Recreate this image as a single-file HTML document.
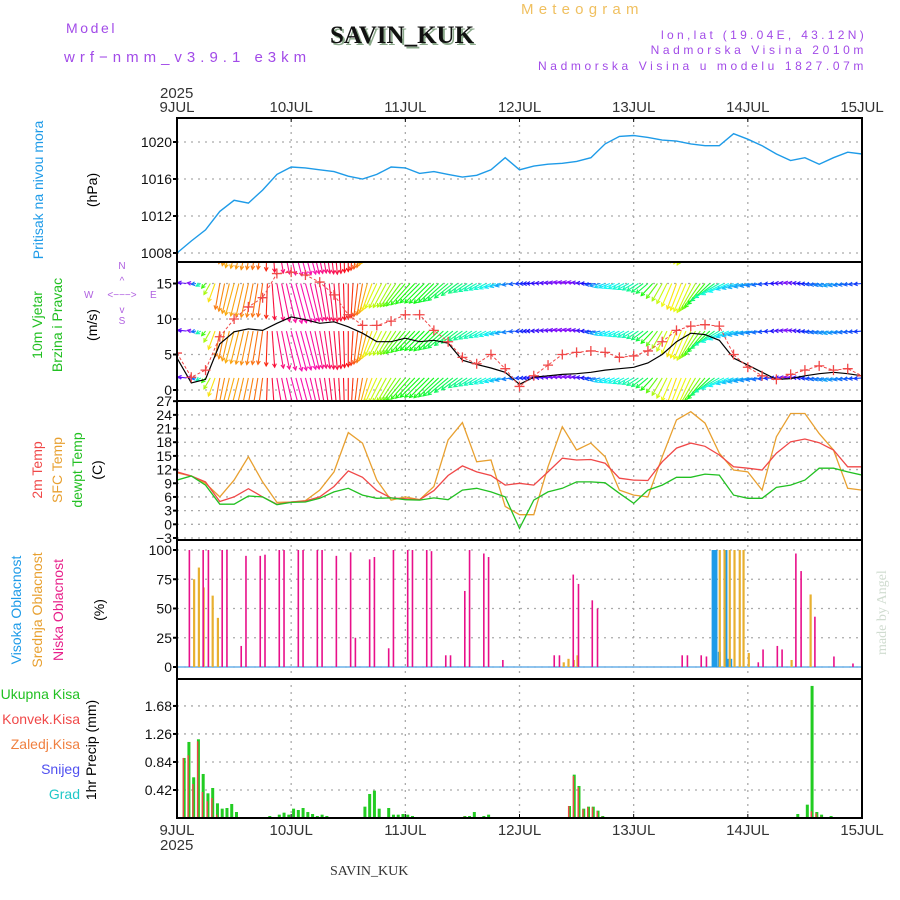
<!DOCTYPE html>
<html><head><meta charset="utf-8"><title>Meteogram SAVIN_KUK</title>
<style>
html,body{margin:0;padding:0;background:#fff;}
svg{display:block;font-family:"Liberation Sans",sans-serif;}
</style></head>
<body>
<svg id="chart" width="900" height="900" viewBox="0 0 900 900" xmlns="http://www.w3.org/2000/svg">
<rect x="0" y="0" width="900" height="900" fill="#fff"/>
<g>
<text x="66" y="33" font-size="14" fill="#a24be8" letter-spacing="2.6">Model</text>
<text x="64" y="62" font-size="15" fill="#a24be8" letter-spacing="5.0">wrf−nmm_v3.9.1 e3km</text>
<text x="521" y="14" font-size="15" fill="#f0c060" letter-spacing="5.2">Meteogram</text>
<text x="332" y="45" font-size="25" font-weight="bold" font-family="Liberation Serif,serif" fill="#8aa88a">SAVIN_KUK</text>
<text x="330" y="43" font-size="25" font-weight="bold" font-family="Liberation Serif,serif" fill="#111">SAVIN_KUK</text>
<text x="867" y="39" font-size="12" fill="#a24be8" text-anchor="end" letter-spacing="3.3">lon,lat (19.04E, 43.12N)</text>
<text x="867" y="54" font-size="12" fill="#a24be8" text-anchor="end" letter-spacing="3.6">Nadmorska Visina 2010m</text>
<text x="867" y="70" font-size="12" fill="#a24be8" text-anchor="end" letter-spacing="3.6">Nadmorska Visina u modelu 1827.07m</text>
<text x="160" y="98" font-size="15" fill="#333">2025</text>
<text x="160" y="850" font-size="15" fill="#333">2025</text>
<text x="330" y="875" font-size="14" font-family="Liberation Serif,serif" fill="#333">SAVIN_KUK</text>
<text transform="translate(886,655) rotate(-90)" font-size="14" font-family="Liberation Serif,serif" fill="#d0dcd0">made by Angel</text>
</g>
<g>
<text transform="translate(43,190) rotate(-90)" font-size="14" fill="#1e9be8" text-anchor="middle">Pritisak na nivou mora</text>
<text transform="translate(97,190) rotate(-90)" font-size="14" fill="#000" text-anchor="middle">(hPa)</text>
<text transform="translate(42,325) rotate(-90)" font-size="14" fill="#22c022" text-anchor="middle">10m Vjetar</text>
<text transform="translate(62,325) rotate(-90)" font-size="14" fill="#22c022" text-anchor="middle">Brzina i Pravac</text>
<text transform="translate(97,325) rotate(-90)" font-size="14" fill="#000" text-anchor="middle">(m/s)</text>
<g fill="#b060e0" font-size="10">
<text x="122" y="269" text-anchor="middle">N</text>
<text x="84" y="298">W</text><text x="150" y="298">E</text>
<text x="122" y="324" text-anchor="middle">S</text>
<text x="122" y="298" text-anchor="middle" font-size="10">&lt;−−−&gt;</text>
<text x="122" y="284" text-anchor="middle">^</text>
<text x="122" y="313" text-anchor="middle">v</text>
</g>
<text transform="translate(42,470) rotate(-90)" font-size="14" fill="#f04848" text-anchor="middle">2m Temp</text>
<text transform="translate(62,470) rotate(-90)" font-size="14" fill="#e8a030" text-anchor="middle">SFC Temp</text>
<text transform="translate(82,470) rotate(-90)" font-size="14" fill="#22c022" text-anchor="middle">dewpt Temp</text>
<text transform="translate(102,470) rotate(-90)" font-size="14" fill="#000" text-anchor="middle">(C)</text>
<text transform="translate(21,610) rotate(-90)" font-size="14" fill="#1e9be8" text-anchor="middle">Visoka Oblacnost</text>
<text transform="translate(42,610) rotate(-90)" font-size="14" fill="#e8a030" text-anchor="middle">Srednja Oblacnost</text>
<text transform="translate(63,610) rotate(-90)" font-size="14" fill="#e8208a" text-anchor="middle">Niska Oblacnost</text>
<text transform="translate(104,610) rotate(-90)" font-size="14" fill="#000" text-anchor="middle">(%)</text>
<text x="80" y="699" font-size="14" fill="#22c022" text-anchor="end">Ukupna Kisa</text>
<text x="80" y="724" font-size="14" fill="#f04848" text-anchor="end">Konvek.Kisa</text>
<text x="80" y="749" font-size="14" fill="#f08040" text-anchor="end">Zaledj.Kisa</text>
<text x="80" y="774" font-size="14" fill="#5050f0" text-anchor="end">Snijeg</text>
<text x="80" y="799" font-size="14" fill="#20c8c8" text-anchor="end">Grad</text>
<text transform="translate(96,750) rotate(-90)" font-size="14" fill="#000" text-anchor="middle">1hr Precip (mm)</text>
</g>
<g id="grid"></g>
<g id="marks"></g>
<g id="frame"></g>
</svg>
<script>
// ---- data (3-hourly, index*3 = hours from 9JUL 00) ----
const dayLabels = ["9JUL","10JUL","11JUL","12JUL","13JUL","14JUL","15JUL"];
const pressureTicks = [1008,1012,1016,1020];
const windTicks = [0,5,10,15];
const tempTicks = [-3,0,3,6,9,12,15,18,21,24,27];
const cloudTicks = [0,25,50,75,100];
const precipTicks = [0.42,0.84,1.26,1.68];
const pressure = [1008.0,1009.3,1010.5,1012.5,1013.7,1013.4,1014.8,1016.5,1017.3,1017.2,1017,1016.8,1016.3,1016,1016.5,1017.3,1017.2,1016.6,1016.8,1016.5,1016.2,1016.4,1017,1018.3,1017,1017.4,1017.6,1017.7,1017.9,1018.3,1019.8,1020.6,1020.7,1020.5,1020.2,1020.1,1019.8,1019.6,1019.6,1020.9,1020.3,1019.6,1018.7,1018,1018.3,1017.6,1018.3,1018.9,1018.7];
const windSpeed = [4.5,1.0,1.5,6.5,8.2,8.6,8.4,9.4,10.3,9.9,9.4,9.6,8.9,8.0,6.8,6.8,7.3,6.8,7.0,6.6,4.2,3.6,3.1,2.5,0.8,1.8,2.0,2.2,2.3,2.5,2.8,3.0,3.2,3.8,5.0,6.8,8.0,7.8,7.0,4.5,3.5,2.5,1.5,1.6,2.0,2.3,2.5,2.3,2.0];
const windGust = [5.2,1.8,2.8,7.5,10.0,11.7,13.0,16.4,16.6,16.2,15.2,13.4,10.6,9.1,9.1,9.7,10.6,10.6,8.4,6.8,4.6,3.7,5.0,3.0,0.5,2.0,3.5,5.0,5.3,5.5,5.3,4.6,4.8,5.5,6.8,8.4,9.0,9.2,9.0,5.0,3.2,2.0,1.5,2.2,2.8,3.4,2.8,3.0,2.0];
const windDir = [90,100,40,10,15,12,8,-10,-15,-15,-10,-5,0,10,25,30,40,45,45,50,55,60,65,75,85,90,95,100,100,90,70,65,60,50,30,20,25,40,60,70,75,80,90,100,90,80,75,80,85];
const temp2m = [11.5,10.6,9.3,5.0,6.0,7.8,6.0,4.4,4.9,5.1,6.0,8.3,11.7,10.3,7.4,5.8,5.6,5.4,7.4,10.7,12.8,11.5,10.7,8.6,9.0,8.6,11.5,14.5,14.1,14.2,13.4,10.1,9.7,9.6,13.7,16.7,17.8,17.1,15.2,12.6,12.3,11.9,15.6,18.1,18.7,17.9,16.3,12.6,12.6];
const tempSfc = [11.3,10.6,9.0,6.0,9.7,14.8,9.3,4.8,4.9,5.2,7.5,11.5,20.1,17.8,9.7,5.3,6.0,5.4,8.3,18.5,22.3,13.7,14.1,3.9,2.1,2.1,12.6,21.4,16.3,17.8,14.8,7.5,6.4,6.0,14.8,22.9,24.7,22.2,15.6,11.9,11.5,7.5,19.2,24.3,24.3,19.9,16.3,7.9,7.5];
const dewpt = [9.7,10.6,8.6,4.4,4.4,6.2,6.0,4.3,4.8,4.9,5.7,7.1,7.9,6.4,5.7,5.8,5.4,5.3,5.8,5.4,7.5,7.9,7.1,6.0,-0.9,5.3,7.1,7.9,9.3,9.3,9.1,6.8,4.6,7.5,8.6,10.3,10.3,11.0,10.8,6.4,5.7,5.7,8.1,8.6,9.7,12.3,12.3,11.5,10.8];
// clouds (hour, %)
const lowCloudHours = [2.6,5.5,6.6,9.5,10.5,13.5,14.5,17.5,18.5,21.5,22.5,25.5,26.5,29.5,30.5,33.5,36.5,37.5,40.5,41.5,44.5,45.5,48.5,49.5,52.5,53.5,56.5,57.5,60.5,61.5,64.5,65.5,68.5,79.3,80.4,83.3,84.4,87.3,88.4,106.2,107.3,110.2,111.3,122.2,123.2,126.2,127.2,130.1,131.2,134.1,138.1,142.1];
const lowCloud = [100,100,100,100,100,18,95,95,96,100,100,100,100,100,100,95,98,25,92,94,16,100,100,100,100,99,10,10,65,100,97,94,6,10,10,79,71,57,50,10,10,10,9,4,15,18,15,97,82,43,9,3];
const midCloudHours = [3.6,4.6,5.6,7.5,8.6,81.3,82.3,83.4,84.2,114.1,115.1,116.2,117.2,118.3,119.1,120.2,129.2,133.2];
const midCloud = [75,85,68,61,42,4,7,6,10,100,100,100,100,100,100,12,6,62];
const highCloudHours = [112.7,113.3,114.0,115.4,115.8,116.4];
const highCloud = [100,100,13,100,7,7];
// precipitation (hour, mm)
const precipHours = [1,2,3,4,5,6,7,8,9,10,11,12,19,21,22,23,24,25,26,27,28,29,30,31,39,40,41,42,44,45,46,47,48,49,60,61,62,64,65,82,83,84,85,86,87,88,89,130,132,133,134,135,137];
const precipTotal = [0.9,1.14,0.61,1.18,0.66,0.37,0.45,0.22,0.14,0.15,0.21,0.09,0.03,0.05,0.08,0.05,0.14,0.12,0.15,0.09,0.06,0.03,0.05,0.03,0.17,0.36,0.41,0.14,0.15,0.05,0.05,0.06,0.05,0.03,0.03,0.03,0.09,0.03,0.05,0.18,0.65,0.48,0.14,0.17,0.17,0.11,0.03,0.06,0.2,1.98,0.09,0.05,0.03];
const precipConv = [0.9,0.94,0.51,1.15,0.39,0.25,0.3,0.05,0,0,0,0,0,0,0,0,0,0,0,0,0,0,0,0,0,0,0,0,0,0,0,0,0,0,0.02,0,0,0,0,0.18,0.63,0.46,0.13,0.16,0.16,0.1,0.02,0,0,0.1,0.07,0.02,0];

// ---- axes ----
const X0=177, X1=862, HOURS=144;
const xh = h => X0 + h*(X1-X0)/HOURS;
const yP = v => 253 - (v-1008)*9.25;
const yW = v => 390 - v*7.1;
const yT = v => 524.3 - v*4.56;
const yC = v => 667 - v*1.17;
const yR = v => 818 - v*66.7;
const panels = [[118,262],[262,401],[401,540],[540,679],[679,818]];
const NS="http://www.w3.org/2000/svg";
function mk(tag, attrs, parent){const e=document.createElementNS(NS,tag);for(const k in attrs)e.setAttribute(k,attrs[k]);parent.appendChild(e);return e;}
const grid=document.getElementById('grid'), marks=document.getElementById('marks'), frame=document.getElementById('frame');

const defs=mk('defs',{},document.getElementById('chart'));
panels.forEach((p,i)=>{const c=mk('clipPath',{id:'clip'+i},defs);mk('rect',{x:X0,y:p[0],width:X1-X0,height:p[1]-p[0]},c);});

dayLabels.forEach((d,i)=>{
  const x=xh(i*24);
  if(i>0&&i<6){const l=mk('line',{x1:x,y1:118,x2:x,y2:818,stroke:'#aaa','stroke-width':1.3,'stroke-dasharray':'2,5'},grid);
  
  }
  const t1=mk('text',{x:x,y:112,'font-size':15,fill:'#333','text-anchor':'middle'},frame);t1.textContent=d;
  
  
  const t2=mk('text',{x:x,y:835,'font-size':15,fill:'#333','text-anchor':'middle'},frame);t2.textContent=d;
  
  
  mk('line',{x1:x,y1:118,x2:x,y2:122,stroke:'#000'},frame);
  mk('line',{x1:x,y1:814,x2:x,y2:818,stroke:'#000'},frame);
});
function hTicks(ticks, yf, fmt){
  ticks.forEach(v=>{const y=yf(v);
    const l=mk('line',{x1:X0,y1:y,x2:X1,y2:y,stroke:'#aaa','stroke-width':1.3,'stroke-dasharray':'2,5'},grid);
    
    
    mk('line',{x1:X0-4,y1:y,x2:X0,y2:y,stroke:'#000','stroke-width':2},frame);
    const t=mk('text',{x:X0-5,y:y+5,'font-size':14,fill:'#111','text-anchor':'end'},frame);t.textContent=fmt(v);
    
    
  });
}
hTicks(pressureTicks,yP,v=>v);
hTicks(windTicks,yW,v=>v);
hTicks(tempTicks,yT,v=>v<0?'−'+(-v):v);
hTicks(cloudTicks,yC,v=>v);
hTicks(precipTicks,yR,v=>v.toFixed(2));

const fr=mk('rect',{x:X0,y:118,width:X1-X0,height:700,fill:'none',stroke:'#000','stroke-width':2},frame);


[262,401,540,679].forEach(y=>mk('line',{x1:X0,y1:y,x2:X1,y2:y,stroke:'#000','stroke-width':2},frame));

function line(arr, yf, color, name, clip, w){
  const d=arr.map((v,i)=>(i?'L':'M')+xh(i*3).toFixed(1)+','+yf(v).toFixed(1)).join('');
  const p=mk('path',{d:d,fill:'none',stroke:color,'stroke-width':w||1.3,'clip-path':'url(#clip'+clip+')'},marks);
  
  
  return p;
}
line(pressure,yP,'#1e9be8','pressure-line',0,1.4);

const wg=mk('g',{'clip-path':'url(#clip1)'},marks);


function lerp(a,h){const i=Math.min(Math.floor(h/3),a.length-2);const f=h/3-i;return a[i]*(1-f)+a[i+1]*f;}
const rows=[21.7,15,8.3,1.7];
for(let h=0;h<=HOURS;h++){
  const sp=lerp(windSpeed,h), dir=lerp(windDir,h);
  const hue=((dir*2.7)%360+360)%360;
  const col='hsl('+hue+',95%,52%)';
  const rad=(dir+180)*Math.PI/180;
  const L=Math.max(4,sp*4);
  const dx=Math.sin(rad)*L, dy=-Math.cos(rad)*L;
  rows.forEach(r=>{
    const x=xh(h), y=yW(r);
    mk('line',{x1:x,y1:y,x2:x+dx,y2:y+dy,stroke:col,'stroke-width':1.1},wg);
    const a=Math.atan2(dy,dx);
    const hx=x+dx, hy=y+dy;
    mk('path',{d:'M'+(hx-4*Math.cos(a-0.5))+','+(hy-4*Math.sin(a-0.5))+'L'+hx+','+hy+'L'+(hx-4*Math.cos(a+0.5))+','+(hy-4*Math.sin(a+0.5)),fill:'none',stroke:col,'stroke-width':1.1},wg);
  });
}
line(windSpeed,yW,'#000','wind-speed-line',1,1.2);
const gl=line(windGust,yW,'#f04848','wind-gust-line',1,1);
gl.setAttribute('stroke-dasharray','3,2');
const gg=mk('g',{'clip-path':'url(#clip1)'},marks);


windGust.forEach((v,i)=>{const x=xh(i*3),y=yW(v);
  mk('path',{d:`M${x-5},${y}H${x+5}M${x},${y-5}V${y+5}`,stroke:'#f04848','stroke-width':1.3},gg);});

line(tempSfc,yT,'#e8a030','sfc-temp-line',2,1.3);
line(temp2m,yT,'#f04848','temp-2m-line',2,1.3);
line(dewpt,yT,'#22c022','dewpt-line',2,1.3);

mk('line',{x1:X0,y1:667,x2:X1,y2:667,stroke:'#6ab0e8','stroke-width':1.5},marks);
function bars(hours, vals, yf, color, w, name, off){
  hours.forEach((h,i)=>{ if(vals[i]<=0) return; const x=xh(h)+(off||0), y=yf(vals[i]);
    const r=mk('rect',{x:x-w/2,y:y,width:w,height:yf(0)-y,fill:color},marks);
    
    });
}
bars(highCloudHours,highCloud,yC,'#1e9be8',3,'high-cloud-bar');
bars(midCloudHours,midCloud,yC,'#e8b030',2.2,'mid-cloud-bar');
bars(lowCloudHours,lowCloud,yC,'#e8108a',1.6,'low-cloud-bar');

bars(precipHours,precipTotal,yR,'#22cc22',3,'total-precip-bar',2.4);
bars(precipHours,precipConv,yR,'#f04848',1.4,'convective-precip-bar',1.6);
</script>
</body></html>
